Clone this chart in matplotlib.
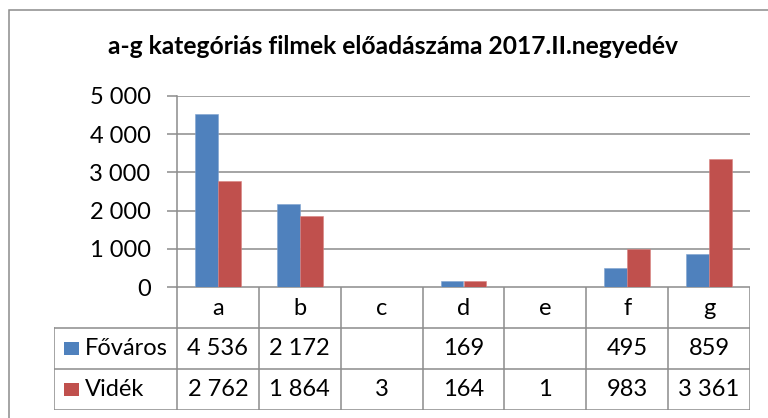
import matplotlib
matplotlib.use("Agg")
import matplotlib.pyplot as plt
from matplotlib.patches import Rectangle
import numpy as np

plt.rcParams['font.family'] = ['Lato', 'DejaVu Sans']

categories = ['a', 'b', 'c', 'd', 'e', 'f', 'g']
series_names = ['Főváros', 'Vidék']
fovaros = [4536, 2172, None, 169, None, 495, 859]
videk = [2762, 1864, 3, 164, 1, 983, 3361]
yticks = [0, 1000, 2000, 3000, 4000, 5000]
title = 'a-g kategóriás filmek előadászáma 2017.II.negyedév'

colors = ['#4F81BD', '#C0504D']
grid_c = '#8c8c8c'
fs = 17

W, H = 768, 418
fig = plt.figure(figsize=(W / 100, H / 100), dpi=100)

def fx(px):
    return px / W

def fy(py):
    return 1 - py / H

# outer frame
fig.patches.append(Rectangle((fx(9), -0.1), 1.2, fy(10) + 0.1, transform=fig.transFigure,
                             fill=False, edgecolor=grid_c, lw=1.1))

fig.text(fx(393), fy(47), title, ha='center', va='center', fontsize=17.7, fontweight='bold')

ax_l, ax_r, ax_t, ax_b = 177, 750, 96, 287
ax = fig.add_axes([fx(ax_l), fy(ax_b), fx(ax_r - ax_l), (ax_b - ax_t) / H])
x = np.arange(len(categories))
bw = 0.28
fv = [np.nan if v is None else v for v in fovaros]
vv = [np.nan if v is None else v for v in videk]
ax.bar(x - bw / 2, fv, bw, color=colors[0], edgecolor='#7fa3d0', lw=0.4, zorder=3)
ax.bar(x + bw / 2, vv, bw, color=colors[1], edgecolor='#d88280', lw=0.4, zorder=3)
ax.set_xlim(-0.5, len(categories) - 0.5)
ax.set_ylim(0, 5000)
ax.set_yticks(yticks)
ax.set_yticklabels([f"{t:,}".replace(",", " ") for t in yticks], fontsize=fs)
ax.yaxis.grid(True, color=grid_c, lw=1.1, zorder=0)
ax.set_xticks([])
for s in ['top', 'right', 'bottom']:
    ax.spines[s].set_visible(False)
ax.spines['left'].set_color(grid_c)
ax.spines['left'].set_linewidth(1.1)
ax.tick_params(axis='y', length=7, color=grid_c, width=1.1, pad=12)

# data table
cw = (ax_r - ax_l) / len(categories)
lab_w = 1.5
t_top, t_bot = 287, 410
tab = fig.add_axes([fx(ax_l - lab_w * cw), fy(t_bot), fx(ax_r - ax_l + lab_w * cw), (t_bot - t_top) / H])
tab.set_xlim(-0.5 - lab_w, len(categories) - 0.5)
tab.set_ylim(3, 0)
tab.axis('off')
lk = dict(color=grid_c, lw=1.1, solid_capstyle='projecting')
tab.plot([-0.5, len(categories) - 0.5], [0, 0], **lk)
for r in [1, 2, 3]:
    tab.plot([-0.5 - lab_w, len(categories) - 0.5], [r, r], **lk)
tab.plot([-0.5 - lab_w] * 2, [1, 3], **lk)
for b in np.arange(len(categories) + 1) - 0.5:
    tab.plot([b, b], [0, 3], **lk)
for i, c in enumerate(categories):
    tab.text(i, 0.52, c, ha='center', va='center', fontsize=fs)
for r, (name, vals) in enumerate(zip(series_names, [fovaros, videk]), start=1):
    tab.add_patch(Rectangle((-0.5 - lab_w + 0.12, r + 0.5 - 0.17), 0.18, 0.34,
                            color=colors[r - 1], lw=0))
    tab.text(-0.5 - lab_w + 0.37, r + 0.5, name, ha='left', va='center', fontsize=fs)
    for i, v in enumerate(vals):
        if v is not None:
            tab.text(i, r + 0.5, f"{v:,}".replace(",", " "), ha='center', va='center', fontsize=fs)

fig.savefig('out.png', dpi=100)
